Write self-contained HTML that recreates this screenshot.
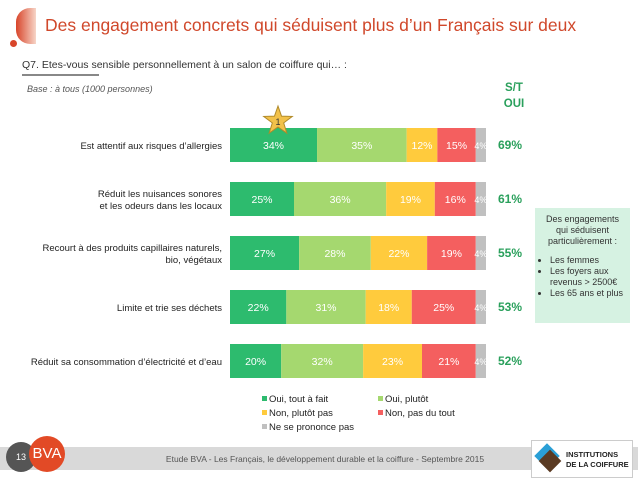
<!DOCTYPE html>
<html><head><meta charset="utf-8"><style>
body{margin:0;width:638px;height:479px;background:#fff;overflow:hidden;font-family:"Liberation Sans",sans-serif;position:relative}
.a{position:absolute}
</style></head><body>
<div class="a" style="left:16px;top:8px;width:20px;height:36px;border-radius:14px 0 0 14px;background:linear-gradient(90deg,#d8452a,#f7d5c8)"></div>
<div class="a" style="left:10px;top:40px;width:7px;height:7px;border-radius:50%;background:#d8452a"></div>
<div class="a" style="left:45px;top:15px;font-size:17.5px;color:#d0482b;white-space:nowrap">Des engagement concrets qui séduisent plus d’un Français sur deux</div>
<div class="a" style="left:22px;top:59px;font-size:10.5px;color:#333">Q7. Etes-vous sensible personnellement à un salon de coiffure qui… :</div>
<div class="a" style="left:22px;top:74px;width:77px;height:2px;background:#888"></div>
<div class="a" style="left:27px;top:84px;font-size:9px;font-style:italic;color:#555">Base : à tous (1000 personnes)</div>
<div class="a" style="left:494px;top:80px;width:40px;text-align:center;font-size:11.5px;font-weight:bold;color:#2aa05c;line-height:16px">S/T<br>OUI</div>
<svg class="a" style="left:0;top:0" width="638" height="479" id="ch"></svg>
<div class="a" style="left:535px;top:208px;width:95px;height:115px;background:#d6f2e2;font-size:9px;color:#333;line-height:11px">
<div style="text-align:center;padding-top:6px">Des engagements<br>qui séduisent<br>particulièrement :</div>
<ul style="margin:8px 0 0 0;padding-left:15px">
<li>Les femmes</li><li>Les foyers aux revenus &gt; 2500€</li><li>Les 65 ans et plus</li></ul></div>
<div class="a" style="left:0;top:447px;width:638px;height:23px;background:#d9d9d9"></div>
<div class="a" style="left:140px;top:454px;width:370px;text-align:center;font-size:8.5px;color:#555;white-space:nowrap">Etude BVA - Les Français, le développement durable et la coiffure - Septembre 2015</div>
<div class="a" style="left:6px;top:442px;width:30px;height:30px;border-radius:50%;background:#555;color:#fff;font-size:9px;text-align:center;line-height:30px">13</div>
<div class="a" style="left:29px;top:436px;width:36px;height:36px;border-radius:50%;background:#e24a26;color:#fff;font-size:15px;text-align:center;line-height:36px">BVA</div>
<div class="a" style="left:531px;top:440px;width:100px;height:36px;background:#fff;border:1px solid #ccc">
<div style="position:absolute;left:6px;top:6px;width:18px;height:18px;background:#2a9fd6;transform:rotate(45deg)"></div>
<div style="position:absolute;left:10px;top:12px;width:16px;height:16px;background:#5a3a22;transform:rotate(45deg)"></div>
<div style="position:absolute;left:34px;top:9px;font-size:7.5px;font-weight:bold;color:#222;line-height:10px;white-space:nowrap">INSTITUTIONS<br>DE LA COIFFURE</div></div>
<script>
const categories=["Est attentif aux risques d’allergies","Réduit les nuisances sonores|et les odeurs dans les locaux","Recourt à des produits capillaires naturels,|bio, végétaux","Limite et trie ses déchets","Réduit sa consommation d’électricité et d’eau"];
const toutAFait=[34,25,27,22,20];
const plutot=[35,36,28,31,32];
const plutotPas=[12,19,22,18,23];
const pasDuTout=[15,16,19,25,21];
const nsp=[4,4,4,4,4];
const stOui=[69,61,55,53,52];
const seriesNames=["Oui, tout à fait","Oui, plutôt","Non, plutôt pas","Non, pas du tout","Ne se prononce pas"];
const colors=["#2dbb6e","#a5d86f","#ffcb3d","#f45f5f","#c0c0c0"];
const svg=document.getElementById('ch');const NS='http://www.w3.org/2000/svg';
const x0=230,scale=2.56,rowTop=128,rowStep=54,barH=34;
const xS=v=>x0+v*scale;const yS=i=>rowTop+i*rowStep;
function mk(t,a){const e=document.createElementNS(NS,t);for(const k in a)e.setAttribute(k,a[k]);svg.appendChild(e);return e;}
const all=[toutAFait,plutot,plutotPas,pasDuTout,nsp];
categories.forEach((c,i)=>{
 let cum=0;
 all.forEach((s,j)=>{
  const r=mk('rect',{x:xS(cum),y:yS(i),width:s[i]*scale,height:barH,fill:colors[j]});
  
  
  const t=mk('text',{x:xS(cum+s[i]/2),y:yS(i)+barH/2+4,'text-anchor':'middle','font-size':j==4?9:10.5,fill:'#fff','font-family':'Liberation Sans, sans-serif'});
  t.textContent=s[i]+'%';
  
  
  cum+=s[i];
 });
 const st=mk('text',{x:510,y:yS(i)+barH/2+4,'text-anchor':'middle','font-size':12,'font-weight':'bold',fill:'#2aa05c','font-family':'Liberation Sans, sans-serif'});
 st.textContent=stOui[i]+'%';
 
 
 const lines=c.split('|');
 lines.forEach((l,k)=>{
  const t=mk('text',{x:222,y:yS(i)+barH/2+4+(k-(lines.length-1)/2)*12,'text-anchor':'end','font-size':9.5,fill:'#222','font-family':'Liberation Sans, sans-serif'});
  t.textContent=l;
  
  
 });
});
const cx=278,cy=121,pts=[];for(let k=0;k<10;k++){const r=k%2?6:15,a=-Math.PI/2+k*Math.PI/5;pts.push((cx+r*Math.cos(a)).toFixed(1)+','+(cy+r*Math.sin(a)).toFixed(1));}
const star=mk('polygon',{points:pts.join(' '),fill:'#f2c14a',stroke:'#b08a2a','stroke-width':1});


const sn=mk('text',{x:cx,y:cy+4,'text-anchor':'middle','font-size':9,fill:'#333'});sn.textContent='1';


const lp=[[262,402],[378,402],[262,416],[378,416],[262,430]];
seriesNames.forEach((n,j)=>{
 const r=mk('rect',{x:lp[j][0],y:lp[j][1]-6,width:5,height:5,fill:colors[j]});
 
 
 const t=mk('text',{x:lp[j][0]+7,y:lp[j][1],'font-size':9.5,fill:'#222','font-family':'Liberation Sans, sans-serif'});
 t.textContent=n;
 
 
});
</script>
</body></html>
